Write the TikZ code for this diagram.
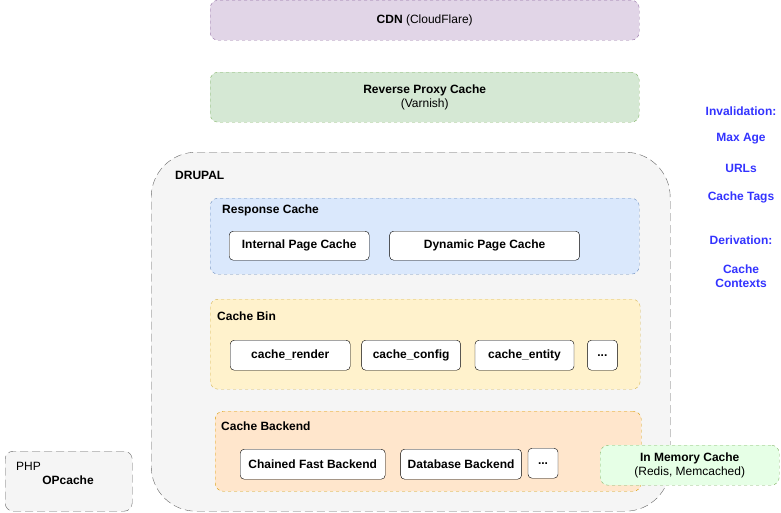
\documentclass[tikz,border=0pt]{standalone}
\usepackage{fontspec}
\setmainfont{Liberation Sans}
\usepackage{tikz}
\usetikzlibrary{positioning}

\definecolor{cdnfill}{HTML}{E1D5E7}
\definecolor{cdnline}{HTML}{9673A6}
\definecolor{proxyfill}{HTML}{D5E8D4}
\definecolor{proxyline}{HTML}{82B366}
\definecolor{drupalfill}{HTML}{F5F5F5}
\definecolor{drupalline}{HTML}{666666}
\definecolor{respfill}{HTML}{DAE8FC}
\definecolor{respline}{HTML}{6C8EBF}
\definecolor{binfill}{HTML}{FFF2CC}
\definecolor{binline}{HTML}{D6B656}
\definecolor{backfill}{HTML}{FFE6CC}
\definecolor{backline}{HTML}{D79B00}
\definecolor{memfill}{HTML}{E6FFE6}
\definecolor{hintblue}{HTML}{3333FF}

\begin{document}
\begin{tikzpicture}[x=1pt, y=-1pt, font=\fontsize{12}{14}\selectfont,
    group/.style={draw, dash pattern=on 3pt off 3pt, rounded corners=8pt, inner sep=0pt, anchor=north west},
    outer/.style={draw=drupalline, fill=drupalfill, dash pattern=on 8pt off 4pt, inner sep=0pt, anchor=north west},
    item/.style={draw=black, fill=white, rounded corners=4pt, inner sep=0pt, font=\fontsize{12}{14}\selectfont\bfseries},
    grouplabel/.style={anchor=west, inner sep=0pt, font=\fontsize{12}{14}\selectfont\bfseries},
    hint/.style={text=hintblue, align=center, inner sep=0pt, font=\fontsize{12}{14}\selectfont\bfseries}]
  \useasboundingbox (0, 0) rectangle (781, 512);

  % top layers
  \node[group, draw=cdnline, fill=cdnfill, minimum width=429pt, minimum height=40pt] (cdn) at (210, 0) {};
  \node (cdntext) at (cdn.center) {\textbf{CDN} (CloudFlare)};
  \node[group, draw=proxyline, fill=proxyfill, minimum width=429pt, minimum height=50pt] (proxy) at (210, 72) {};
  \node[align=center] (proxytext) at (proxy.center) {\textbf{Reverse Proxy Cache}\\(Varnish)};

  % drupal
  \node[outer, rounded corners=45pt, minimum width=519pt, minimum height=359pt] (drupal) at (151, 152) {};
  \node[grouplabel] (drupaltext) at (175, 175) {DRUPAL};

  \node[group, draw=respline, fill=respfill, minimum width=429pt, minimum height=76pt] (resp) at (210, 198) {};
  \node[grouplabel] (resptext) at (222, 210) {Response Cache};
  \node[item, minimum width=140pt, minimum height=29pt, anchor=north west] (internal) at (229, 231) {Internal Page Cache};
  \node[item, minimum width=190pt, minimum height=29pt, right=20pt of internal] (dynamic) {Dynamic Page Cache};

  \node[group, draw=binline, fill=binfill, minimum width=430pt, minimum height=90pt] (bin) at (210, 299) {};
  \node[grouplabel] (bintext) at (217, 316) {Cache Bin};
  \node[item, minimum width=120pt, minimum height=30pt, anchor=north west] (render) at (230, 340) {cache\_render};
  \node[item, minimum width=99pt, minimum height=30pt, right=11pt of render] (config) {cache\_config};
  \node[item, minimum width=99pt, minimum height=30pt, right=14pt of config] (entity) {cache\_entity};
  \node[item, minimum width=30pt, minimum height=30pt, right=13pt of entity] (binmore) {...};

  \node[group, draw=backline, fill=backfill, minimum width=426pt, minimum height=80pt] (backend) at (215, 411) {};
  \node[grouplabel] (backtext) at (221, 426) {Cache Backend};
  \node[item, minimum width=145pt, minimum height=30pt, anchor=north west] (chained) at (240, 449) {Chained Fast Backend};
  \node[item, minimum width=121pt, minimum height=30pt, right=15pt of chained] (database) {Database Backend};
  \node[item, minimum width=30pt, minimum height=30pt, right=6pt of database, yshift=1pt] (backmore) {...};

  % outside drupal
  \node[group, draw=proxyline, fill=memfill, minimum width=179pt, minimum height=40pt] (memory) at (600, 445) {};
  \node[align=center] (memtext) at (memory.center) {\textbf{In Memory Cache}\\(Redis, Memcached)};

  \node[outer, rounded corners=8pt, minimum width=127pt, minimum height=60pt] (php) at (5, 451) {};
  \node[anchor=west, inner sep=0pt] (phptext) at (16, 466) {PHP};
  \node[inner sep=0pt] (opcache) at (68, 480) {\bfseries OPcache};

  % invalidation / derivation
  \node[hint] (inval) at (741, 111) {Invalidation:};
  \node[hint] (maxage) at (741, 139) {Max Age};
  \node[hint] (urls) at (741, 168) {URLs};
  \node[hint] (tags) at (741, 197) {Cache Tags};
  \node[hint] (deriv) at (741, 240) {Derivation:};
  \node[hint] (contexts) at (741, 276) {Cache\\Contexts};
\end{tikzpicture}
\end{document}
